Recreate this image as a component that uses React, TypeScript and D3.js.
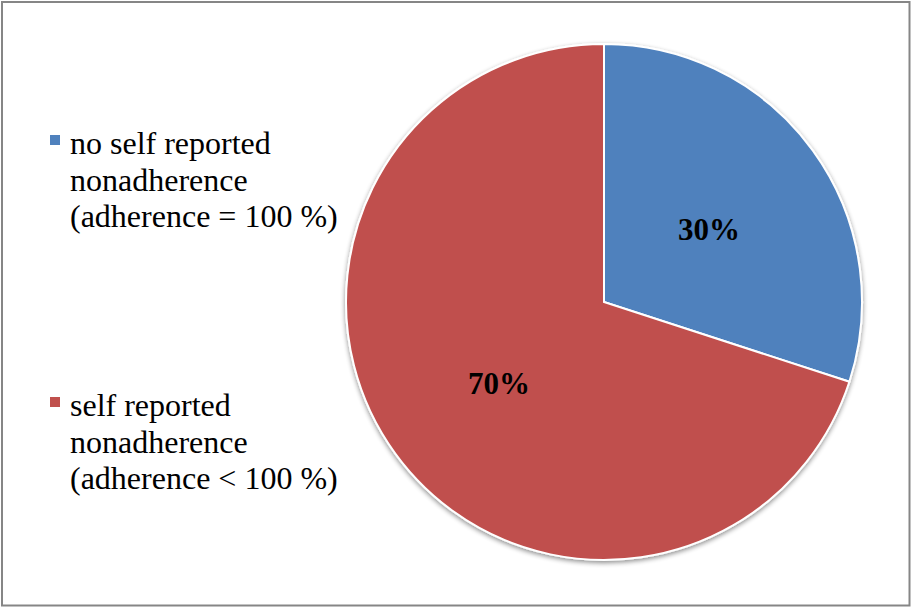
import React from "react";
import * as d3 from "d3";

const categories = [
  ["no self reported", "nonadherence", "(adherence = 100 %)"],
  ["self reported", "nonadherence", "(adherence < 100 %)"],
];
const values = [30, 70];
const labels = ["30%", "70%"];
const colors = ["#4F81BD", "#C0504D"];

const SERIF = "'Liberation Serif', 'Times New Roman', Times, 'DejaVu Serif', serif";

export default function App() {
  const W = 911;
  const H = 607;
  const cx = 604;
  const cy = 302;
  const r = 258;
  const pie = d3.pie<number>().sort(null).value((d) => d)(values);
  const arc = d3.arc<d3.PieArcDatum<number>>().innerRadius(0).outerRadius(r);
  const labelPos = [
    [709, 229],
    [499, 383],
  ];
  const legendTop = [143, 405];
  const lineH = 36.5;
  return (
    <svg width={W} height={H} style={{ position: "absolute", left: 0, top: 0 }}>
      <defs>
        <filter id="sh" x="-10%" y="-10%" width="120%" height="120%">
          <feGaussianBlur in="SourceAlpha" stdDeviation="2.5" />
          <feOffset dx="0" dy="2" result="b" />
          <feComponentTransfer>
            <feFuncA type="linear" slope="0.45" />
          </feComponentTransfer>
          <feMerge>
            <feMergeNode />
            <feMergeNode in="SourceGraphic" />
          </feMerge>
        </filter>
      </defs>
      <rect x={0} y={0} width={W} height={H} fill="#fff" />
      <rect x={2} y={2} width={W - 3.5} height={H - 3.5} fill="none" stroke="#868686" strokeWidth={2} />
      <g transform={`translate(${cx},${cy})`}>
        <g filter="url(#sh)">
          {pie.map((d, i) => (
            <path key={i} d={arc(d) || ""} fill={colors[i]} stroke="#fff" strokeWidth={2} />
          ))}
        </g>
      </g>
      {labels.map((l, i) => (
        <text
          key={i}
          x={labelPos[i][0]}
          y={labelPos[i][1]}
          textAnchor="middle"
          dominantBaseline="central"
          style={{ fontFamily: SERIF, fontWeight: "bold", fontSize: 31 }}
        >
          {l}
        </text>
      ))}
      {categories.map((lines, i) => (
        <g key={i}>
          <rect x={50} y={legendTop[i] - 8} width={10} height={10} fill={colors[i]} />
          {lines.map((t, j) => (
            <text
              key={j}
              x={70}
              y={legendTop[i] + j * lineH}
              dominantBaseline="central"
              style={{ fontFamily: SERIF, fontSize: 32 }}
              fill="#000"
            >
              {t}
            </text>
          ))}
        </g>
      ))}
    </svg>
  );
}
